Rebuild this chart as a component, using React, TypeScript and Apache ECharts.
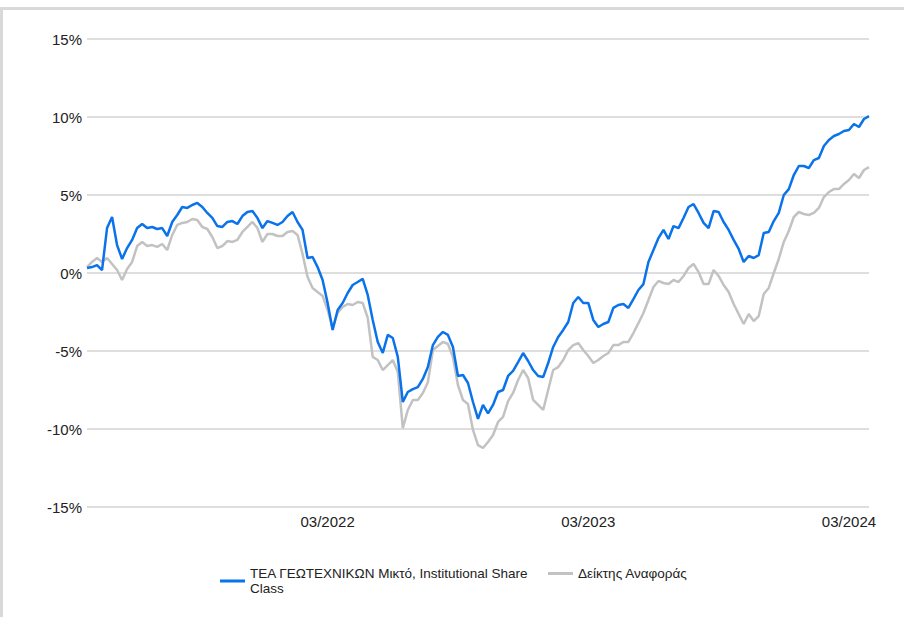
import React, { useEffect, useRef } from 'react';
import * as echarts from 'echarts';

// Weekly observations (Fridays) starting at this date
const startDate = '2021-04-02';
const pointCount = 157;

const seriesNames = ['ΤΕΑ ΓΕΩΤΕΧΝΙΚΩΝ Μικτό, Institutional Share Class', 'Δείκτης Αναφοράς'];

const fundValues = [
  0.32, 0.38, 0.51, 0.19, 2.88, 3.59, 1.79, 0.90, 1.60, 2.12,
  2.88, 3.14, 2.88, 2.95, 2.82, 2.88, 2.37, 3.27, 3.72, 4.23,
  4.17, 4.36, 4.49, 4.23, 3.85, 3.53, 3.01, 2.95, 3.27, 3.33,
  3.14, 3.65, 3.91, 3.97, 3.53, 2.88, 3.33, 3.21, 3.08, 3.27,
  3.65, 3.91, 3.27, 2.76, 0.96, 1.03, 0.38, -0.45, -1.92, -3.65,
  -2.37, -1.92, -1.28, -0.77, -0.58, -0.38, -1.41, -3.01, -4.42, -5.13,
  -3.97, -4.17, -5.38, -8.27, -7.63, -7.44, -7.31, -6.79, -6.03, -4.62,
  -4.10, -3.78, -3.97, -4.74, -6.60, -6.54, -7.05, -8.27, -9.35, -8.46,
  -9.00, -8.46, -7.63, -7.50, -6.60, -6.28, -5.71, -5.13, -5.64, -6.22,
  -6.60, -6.67, -5.77, -4.74, -4.10, -3.65, -3.14, -1.92, -1.54, -1.92,
  -1.92, -3.01, -3.46, -3.27, -3.14, -2.24, -2.05, -1.99, -2.24, -1.67,
  -1.09, -0.71, 0.71, 1.47, 2.24, 2.76, 2.18, 3.01, 2.88, 3.53,
  4.23, 4.42, 3.85, 3.21, 2.88, 3.97, 3.91, 3.27, 2.76, 2.12,
  1.54, 0.71, 1.09, 0.96, 1.15, 2.56, 2.63, 3.33, 3.85, 5.00,
  5.38, 6.28, 6.86, 6.86, 6.73, 7.24, 7.37, 8.14, 8.53, 8.78,
  8.91, 9.10, 9.17, 9.55, 9.36, 9.87, 10.06,
];

const benchmarkValues = [
  0.38, 0.71, 0.96, 0.71, 0.96, 0.58, 0.19, -0.45, 0.26, 0.71,
  1.73, 1.99, 1.73, 1.79, 1.67, 1.86, 1.47, 2.44, 3.08, 3.21,
  3.27, 3.46, 3.40, 2.95, 2.82, 2.31, 1.60, 1.73, 2.05, 1.99,
  2.12, 2.63, 2.95, 3.27, 2.88, 1.99, 2.50, 2.50, 2.37, 2.37,
  2.63, 2.69, 2.44, 1.22, -0.26, -0.96, -1.22, -1.47, -2.37, -3.53,
  -2.56, -2.18, -1.99, -2.05, -1.86, -1.92, -2.88, -5.38, -5.58, -6.22,
  -5.90, -5.58, -6.35, -9.94, -8.78, -8.14, -8.14, -7.69, -7.00, -4.94,
  -4.68, -4.42, -4.55, -5.38, -7.18, -8.14, -8.40, -10.06, -11.03, -11.22,
  -10.83, -10.38, -9.55, -9.23, -8.21, -7.69, -6.86, -6.22, -6.73, -8.14,
  -8.46, -8.78, -7.50, -6.22, -6.03, -5.58, -4.94, -4.62, -4.49, -4.94,
  -5.32, -5.77, -5.58, -5.32, -5.13, -4.62, -4.62, -4.42, -4.42, -3.85,
  -3.21, -2.56, -1.73, -0.90, -0.51, -0.64, -0.71, -0.45, -0.58, -0.19,
  0.32, 0.58, 0.06, -0.71, -0.71, 0.19, -0.19, -0.77, -1.22, -1.99,
  -2.63, -3.27, -2.63, -3.08, -2.76, -1.35, -0.96, 0.00, 0.90, 1.99,
  2.69, 3.59, 3.91, 3.78, 3.72, 3.85, 4.17, 4.87, 5.19, 5.38,
  5.38, 5.71, 5.96, 6.35, 6.09, 6.60, 6.79,
];

const xTickLabels = ['03/2022', '03/2023', '03/2024'];
const yMin = -15;
const yMax = 15;
const yStep = 5;

function buildDates(): string[] {
  const out: string[] = [];
  const t0 = Date.parse(startDate + 'T00:00:00Z');
  for (let i = 0; i < pointCount; i++) {
    out.push(new Date(t0 + i * 7 * 86400000).toISOString().slice(0, 10));
  }
  return out;
}

const monthLabel = (d: string) => d.slice(5, 7) + '/' + d.slice(0, 4);

const FONT = '"Liberation Sans", Arial, Helvetica, sans-serif';

export default function App() {
  const ref = useRef<HTMLDivElement>(null);

  useEffect(() => {
    document.body.style.margin = '0';
    if (!ref.current) return;
    const chart = echarts.init(ref.current, null, { renderer: 'svg' });
    const dates = buildDates();
    const showIdx = new Set<number>();
    dates.forEach((d, i) => {
      const m = monthLabel(d);
      if (xTickLabels.includes(m) && (i === 0 || monthLabel(dates[i - 1]) !== m)) showIdx.add(i);
    });

    const legendText = {
      fontFamily: FONT,
      fontSize: 13.5,
      color: '#222',
      lineHeight: 15,
    };

    chart.setOption({
      animation: false,
      textStyle: { fontFamily: FONT },
      grid: { left: 87, right: 35, top: 39, bottom: 110 },
      legend: [
        {
          data: [seriesNames[0]],
          left: 220,
          top: 566,
          padding: 0,
          itemWidth: 25,
          itemHeight: 3,
          icon: 'rect',
          selectedMode: false,
          formatter: (name: string) => name.replace(' Class', '\nClass'),
          textStyle: legendText,
        },
        {
          data: [seriesNames[1]],
          left: 548,
          top: 566,
          padding: 0,
          itemWidth: 25,
          itemHeight: 3,
          icon: 'rect',
          selectedMode: false,
          textStyle: legendText,
        },
      ],
      xAxis: {
        type: 'category',
        data: dates,
        boundaryGap: false,
        axisLine: { show: false },
        axisTick: { show: false },
        splitLine: { show: false },
        axisLabel: {
          interval: (index: number) => showIdx.has(index),
          formatter: (v: string) => monthLabel(v),
          fontFamily: FONT,
          fontSize: 15,
          color: '#222',
          margin: 7,
          hideOverlap: false,
        },
      },
      yAxis: {
        type: 'value',
        min: yMin,
        max: yMax,
        interval: yStep,
        axisLine: { show: false },
        axisTick: { show: false },
        axisLabel: {
          formatter: '{value}%',
          fontFamily: FONT,
          fontSize: 15,
          color: '#222',
          margin: 5,
        },
        splitLine: { lineStyle: { color: '#dedede', width: 2 } },
      },
      series: [
        {
          name: seriesNames[1],
          type: 'line',
          data: benchmarkValues,
          symbol: 'none',
          lineStyle: { color: '#c2c2c2', width: 2.5 },
          itemStyle: { color: '#c2c2c2' },
          z: 2,
        },
        {
          name: seriesNames[0],
          type: 'line',
          data: fundValues,
          symbol: 'none',
          lineStyle: { color: '#0a72ea', width: 2.5 },
          itemStyle: { color: '#0a72ea' },
          z: 3,
        },
      ],
    });
    return () => chart.dispose();
  }, []);

  return (
    <div style={{ position: 'relative', width: 904, height: 617, overflow: 'hidden', background: '#fff' }}>
      <div
        style={{
          position: 'absolute',
          left: 0,
          top: 7,
          width: 1000,
          height: 700,
          borderTop: '3px solid #d9d9d9',
          borderLeft: '3px solid #d9d9d9',
          boxSizing: 'border-box',
        }}
      />
      <div ref={ref} style={{ position: 'absolute', left: 0, top: 0, width: 904, height: 617 }} />
    </div>
  );
}
